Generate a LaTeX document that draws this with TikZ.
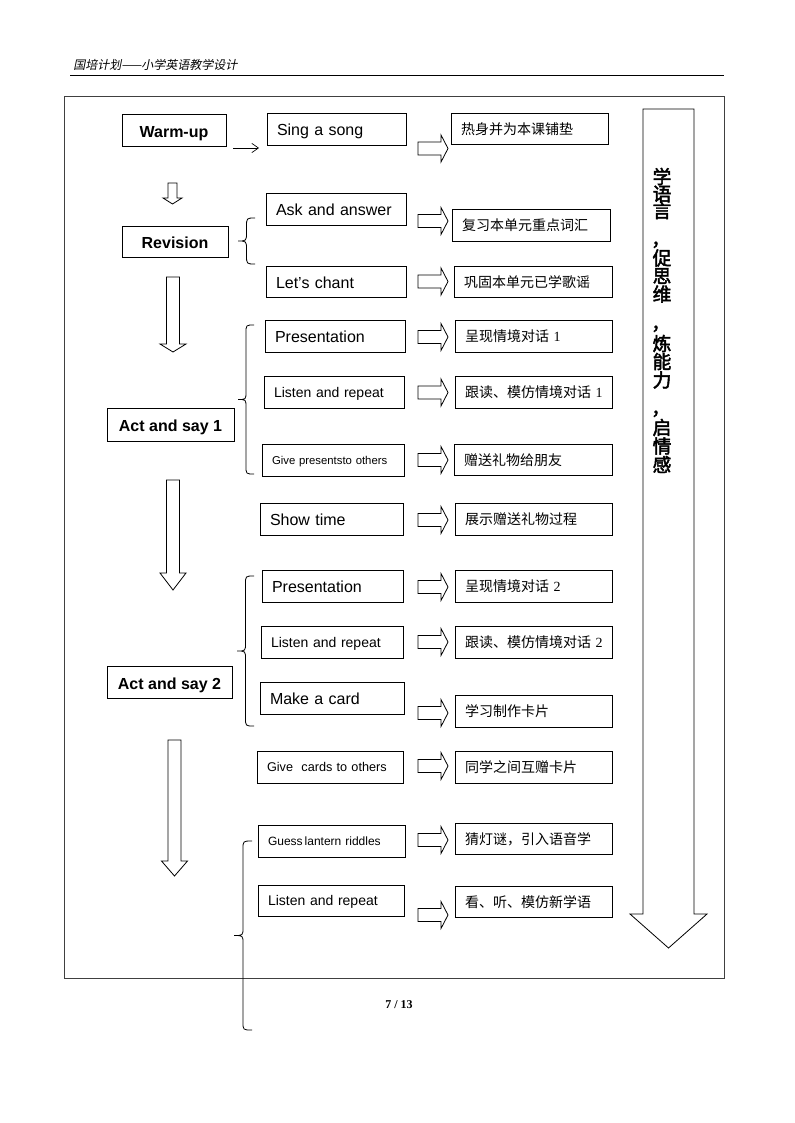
\documentclass[tikz,border=0pt]{standalone}
\usepackage{fontspec}
\setmainfont{Liberation Sans}
\newfontfamily\cjk{Noto Sans CJK SC}
\newfontfamily\cjkb[FakeBold=2.5]{Noto Sans CJK SC}
\newfontfamily\cjki[FakeSlant=0.2]{Noto Sans CJK SC}
\newfontfamily\tnr{Liberation Serif}
\usetikzlibrary{arrows.meta}
\newcommand\fs[1]{\fontsize{#1}{#1}\selectfont}
\tikzset{
  stagebox/.style={draw, line width=0.6pt, font=\bfseries\fs{12}, inner sep=0pt, text depth=0pt, text height=1.1em},
  actbox/.style={draw, line width=0.6pt, inner xsep=7.5pt, inner ysep=0pt, align=left, text depth=0pt},
  enbox/.style={actbox, text height=1.0em},
  cnbox/.style={actbox, font=\cjk\fs{10.5}},
  hollow/.style={draw, line width=0.6pt, fill=white, line join=miter},
  bracel/.style={draw, line width=0.6pt},
  vchar/.style={font=\cjkb\fs{14}, inner sep=0pt},
  framel/.style={draw=black!75, line width=0.75pt},
  thinarrow/.style={line width=0.5pt, -{Straight Barb[length=5pt,width=7pt]}}
}
% stage box: name x1 y1 x2 y2 text
\newcommand\stagenode[6]{%
  \pgfmathsetmacro\bw{(#4-#2)*0.75}\pgfmathsetmacro\bh{(#5-#3)*0.75}%
  \node[stagebox, minimum width=\bw pt, minimum height=\bh pt] (#1) at ({(#2+#4)/2},{(#3+#5)/2}) {#6};}
% left-aligned box: name x1 y1 x2 y2 style text
\newcommand\actnode[7]{%
  \pgfmathsetmacro\tw{(#4-#2-20)*0.75}\pgfmathsetmacro\bh{(#5-#3)*0.75}%
  \node[#6, text width=\tw pt, minimum height=\bh pt] (#1) at ({(#2+#4)/2},{(#3+#5)/2}) {\mbox{#7}};}
% hollow right arrow: xleft ycenter
\newcommand\rarr[2]{%
  \draw[hollow] (#1,{#2-6.5}) -- ({#1+23},{#2-6.5}) -- ({#1+23},{#2-13.5}) -- ({#1+30},#2)
    -- ({#1+23},{#2+13.5}) -- ({#1+23},{#2+6.5}) -- (#1,{#2+6.5}) -- cycle;}
% hollow down arrow: xc top tip shafthalf headhalf headlen
\newcommand\darr[6]{%
  \draw[hollow] ({#1-#4},#2) -- ({#1+#4},#2) -- ({#1+#4},{#3-#6}) -- ({#1+#5},{#3-#6})
    -- (#1,#3) -- ({#1-#5},{#3-#6}) -- ({#1-#4},{#3-#6}) -- cycle;}
% brace: tipx endx top bottom r
\newcommand\wbr[5]{%
  \pgfmathsetmacro\vx{(#1+#2)/2}\pgfmathsetmacro\my{(#3+#4)/2}%
  \draw[bracel] (#2,#3) .. controls (\vx,#3) .. (\vx,{#3+#5}) -- (\vx,{\my-#5})
    .. controls (\vx,\my) .. (#1,\my) .. controls (\vx,\my) .. (\vx,{\my+#5})
    -- (\vx,{#4-#5}) .. controls (\vx,#4) .. (#2,#4);}
\begin{document}
\begin{tikzpicture}[x=0.75pt,y=-0.75pt]
\useasboundingbox (0,0) rectangle (794,1123);
% header
\node[anchor=west, font=\cjki\fs{9}, inner sep=0pt] (hdr) at (73,65) {国培计划——小学英语教学设计};
\coordinate (hl) at (70,76); \coordinate (hr) at (724,76);
\draw[line width=0.75pt] (hl) -- (hr);
% frame
\draw[framel] (64,97) rectangle (724,978);
% page number
\node[font=\tnr\bfseries\fs{9}, inner sep=0pt] (pg) at (399,1005) {7 / 13};

% stages
\stagenode{warm}{122}{114}{226}{146}{Warm-up}
\stagenode{rev}{122}{226}{228}{257}{Revision}
\stagenode{act1}{107}{408}{234}{441}{Act and say 1}
\stagenode{act2}{107}{666}{232}{698}{Act and say 2}

% small arrow warm-up
\coordinate (wa) at (233,148); \coordinate (wb) at (259,148);
\draw[thinarrow] (wa) -- (wb);

% activities
\actnode{sing}{267}{113}{406}{145}{enbox, font=\fs{12}}{Sing a song}
\actnode{ask}{266}{193}{406}{225}{enbox, font=\fs{12}}{Ask and answer}
\actnode{chant}{266}{266}{406}{297}{enbox, font=\fs{12}}{Let's chant}
\actnode{pres1}{265}{320}{405}{352}{enbox, font=\fs{12}}{Presentation}
\actnode{lis1}{264}{376}{404}{408}{actbox, font=\fs{10.5}}{Listen and repeat}
\actnode{give1}{262}{444}{404}{476}{actbox, font=\fs{8.5}}{Give presentsto others}
\actnode{show}{260}{503}{403}{535}{enbox, font=\fs{12}}{Show time}
\actnode{pres2}{262}{570}{403}{602}{enbox, font=\fs{12}}{Presentation}
\actnode{lis2}{261}{626}{403}{658}{actbox, font=\fs{10.5}}{Listen and repeat}
\actnode{make}{260}{682}{404}{714}{enbox, font=\fs{12}}{Make a card}
\actnode{cards}{257}{751}{403}{783}{actbox, font=\fs{9.5}}{Give\ \ cards to others}
\actnode{guess}{258}{825}{405}{857}{actbox, font=\fs{9}}{Guess\hspace{1.5pt}lantern riddles}
\actnode{lis3}{258}{885}{404}{916}{actbox, font=\fs{10.5}}{Listen and repeat}

% chinese boxes
\actnode{c1}{451}{113}{608}{144}{cnbox}{热身并为本课铺垫}
\actnode{c2}{452}{209}{610}{241}{cnbox}{复习本单元重点词汇}
\actnode{c3}{454}{266}{612}{297}{cnbox}{巩固本单元已学歌谣}
\actnode{c4}{455}{320}{612}{352}{cnbox}{呈现情境对话 {\tnr 1}}
\actnode{c5}{455}{376}{612}{408}{cnbox}{跟读、模仿情境对话 {\tnr 1}}
\actnode{c6}{454}{444}{612}{475}{cnbox}{赠送礼物给朋友}
\actnode{c7}{455}{503}{612}{535}{cnbox}{展示赠送礼物过程}
\actnode{c8}{455}{570}{612}{602}{cnbox}{呈现情境对话 {\tnr 2}}
\actnode{c9}{455}{626}{612}{658}{cnbox}{跟读、模仿情境对话 {\tnr 2}}
\actnode{c10}{455}{695}{612}{727}{cnbox}{学习制作卡片}
\actnode{c11}{455}{751}{612}{783}{cnbox}{同学之间互赠卡片}
\actnode{c12}{455}{823}{612}{854}{cnbox}{猜灯谜，引入语音学}
\actnode{c13}{455}{886}{612}{917}{cnbox}{看、听、模仿新学语}

% hollow right arrows
\foreach \yy in {148.5,221,281.5,337,392.5,460,520,587,642,713,766,840,915} {\rarr{418}{\yy}}

% hollow down arrows
\darr{172.5}{183}{204}{4.5}{9.5}{6}
\darr{173}{277}{352}{6.5}{13}{8}
\darr{173}{480}{590}{6.5}{13}{17}
\darr{174.5}{740}{876}{6.5}{13}{15}

% braces
\wbr{238}{255}{218}{264}{9}
\wbr{238}{254}{325}{474}{8}
\wbr{237}{254}{576}{726}{8}
\wbr{234}{252}{841}{1030}{8}

% big right arrow
\draw[hollow] (643,109) -- (694,109) -- (694,914) -- (707,914) -- (668.5,948) -- (630,914) -- (643,914) -- cycle;
\foreach \ch/\yy in {学/176.5,语/194,言/210.5,促/258,思/276,维/294,炼/343.5,能/361.5,力/380,启/427.5,情/446,感/464.5}
  {\node[vchar] at (662,\yy) {\ch};}
\foreach \yy in {246,330,415}
  {\node[vchar, anchor=base west] at (651,\yy) {，};}
\end{tikzpicture}
\end{document}
